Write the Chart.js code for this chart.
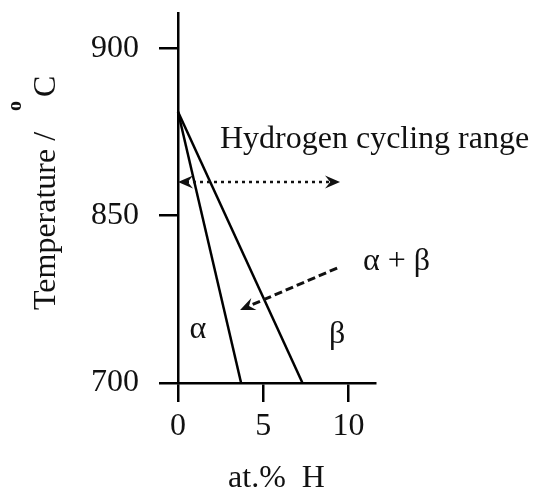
<!DOCTYPE html>
<html>
<head>
<meta charset="utf-8">
<script src="https://cdn.jsdelivr.net/npm/chart.js@4"></script>
<style>
  body { margin: 0; background: #fff; }
</style>
</head>
<body>
<canvas id="diagrama" width="538" height="502"></canvas>
<script>
// eje Y partido: las marcas van equiespaciadas aunque los valores no
const tickTemps = [700, 850, 900];
const tickLabels = ['700', '850', '900'];
const xTicks = [0, 5, 10];

// fronteras de fase (at.% H, temperatura)
const alphaH = [0, 3.7];
const alphaT = [881, 700];
const betaH = [0, 7.3];
const betaT = [881, 700];

// rango de ciclado de hidrogeno
const cicladoH = [0, 9.5];
const cicladoT = 860;

const serif = "'Liberation Serif', 'Times New Roman', serif";
const tinta = '#111';

// temperatura -> posicion en el eje (interpolando entre marcas)
function toAxis(t) {
  for (let i = 0; i < tickTemps.length - 1; i++) {
    if (t <= tickTemps[i + 1] || i === tickTemps.length - 2) {
      return i + (t - tickTemps[i]) / (tickTemps[i + 1] - tickTemps[i]);
    }
  }
  return 0;
}

function puntos(hs, ts) {
  return hs.map((h, i) => ({ x: h, y: toAxis(ts[i]) }));
}

function punta(ctx, x0, y0, x1, y1) {
  const ang = Math.atan2(y1 - y0, x1 - x0);
  const L = 15, W = 6.5;
  ctx.save();
  ctx.translate(x1, y1);
  ctx.rotate(ang);
  ctx.setLineDash([]);
  ctx.beginPath();
  ctx.moveTo(0, 0);
  ctx.lineTo(-L, -W);
  ctx.lineTo(-L * 0.65, 0);
  ctx.lineTo(-L, W);
  ctx.closePath();
  ctx.fill();
  ctx.restore();
}

const notas = {
  id: 'notas',
  afterDatasetsDraw(chart) {
    const { ctx, scales: { x, y } } = chart;
    const px = v => x.getPixelForValue(v);
    const py = t => y.getPixelForValue(toAxis(t));
    ctx.save();
    ctx.fillStyle = tinta;
    ctx.strokeStyle = tinta;

    // flecha punteada doble
    const ax = px(cicladoH[0]), bx = px(cicladoH[1]), ay = py(cicladoT);
    ctx.lineWidth = 2.5;
    ctx.setLineDash([3, 4]);
    ctx.beginPath();
    ctx.moveTo(ax + 8, ay);
    ctx.lineTo(bx - 8, ay);
    ctx.stroke();
    punta(ctx, bx, ay, ax, ay);
    punta(ctx, ax, ay, bx, ay);

    // flecha discontinua hacia la region alfa + beta
    const sx = px(9.33), sy = py(803), tx = px(3.64), ty = py(765.5);
    ctx.lineWidth = 3;
    ctx.setLineDash([8, 4]);
    ctx.beginPath();
    ctx.moveTo(sx, sy);
    ctx.lineTo(tx + (sx - tx) * 0.1, ty + (sy - ty) * 0.1);
    ctx.stroke();
    punta(ctx, sx, sy, tx, ty);

    // textos
    ctx.setLineDash([]);
    ctx.font = '32px ' + serif;
    ctx.textBaseline = 'middle';
    ctx.textAlign = 'left';
    ctx.fillText('Hydrogen cycling range', px(2.46), py(872.7));
    ctx.fillText('\u03b1 + \u03b2', px(10.85), py(808.7));
    ctx.textAlign = 'center';
    ctx.fillText('\u03b1', px(1.17), py(747.5));
    ctx.fillText('\u03b2', px(9.33), py(743));
    ctx.restore();
  },
  afterDraw(chart) {
    // titulo del eje Y con el grado elevado
    const ctx = chart.ctx;
    ctx.save();
    ctx.fillStyle = tinta;
    ctx.translate(55, 310);
    ctx.rotate(-Math.PI / 2);
    ctx.textBaseline = 'alphabetic';
    ctx.textAlign = 'left';
    ctx.font = '32px ' + serif;
    ctx.fillText('Temperature /', 0, 0);
    ctx.fillText('C', 213, 0);
    ctx.font = 'bold 20px ' + serif;
    ctx.fillText('o', 199, -34);
    ctx.restore();
  }
};

new Chart(document.getElementById('diagrama'), {
  type: 'scatter',
  data: {
    datasets: [
      { data: puntos(alphaH, alphaT), borderColor: '#000', backgroundColor: '#000' },
      { data: puntos(betaH, betaT), borderColor: '#000', backgroundColor: '#000' }
    ]
  },
  options: {
    responsive: false,
    animation: false,
    devicePixelRatio: 1,
    layout: { padding: { left: 0, top: 13, right: 163, bottom: 0 } },
    datasets: {
      scatter: {
        showLine: true,
        borderWidth: 2.5,
        pointRadius: 0,
        clip: false
      }
    },
    plugins: {
      legend: { display: false },
      tooltip: { enabled: false }
    },
    scales: {
      x: {
        type: 'linear',
        min: 0,
        max: 11.55,
        border: { display: true, color: '#000', width: 2.5 },
        grid: { drawOnChartArea: false, tickLength: 19, color: '#000', lineWidth: 2.5 },
        ticks: { color: tinta, font: { family: serif, size: 32 }, padding: 5 },
        title: {
          display: true,
          text: 'at.%  H',
          color: tinta,
          font: { family: serif, size: 32 },
          padding: { top: 0, bottom: 4 }
        },
        afterBuildTicks: s => { s.ticks = xTicks.map(v => ({ value: v })); },
        afterFit: s => { s.height = 119; s.paddingLeft = 0; s.paddingRight = 0; }
      },
      y: {
        type: 'linear',
        min: 0,
        max: 2.21,
        border: { display: true, color: '#000', width: 2.5 },
        grid: { drawOnChartArea: false, tickLength: 19, color: '#000', lineWidth: 2.5 },
        ticks: {
          color: tinta,
          font: { family: serif, size: 32 },
          padding: 20,
          callback: (v, i) => tickLabels[i]
        },
        afterBuildTicks: s => { s.ticks = tickTemps.map((t, i) => ({ value: i })); },
        afterFit: s => { s.width = 178; s.paddingTop = 0; s.paddingBottom = 0; }
      }
    }
  },
  plugins: [notas]
});
</script>
</body>
</html>
